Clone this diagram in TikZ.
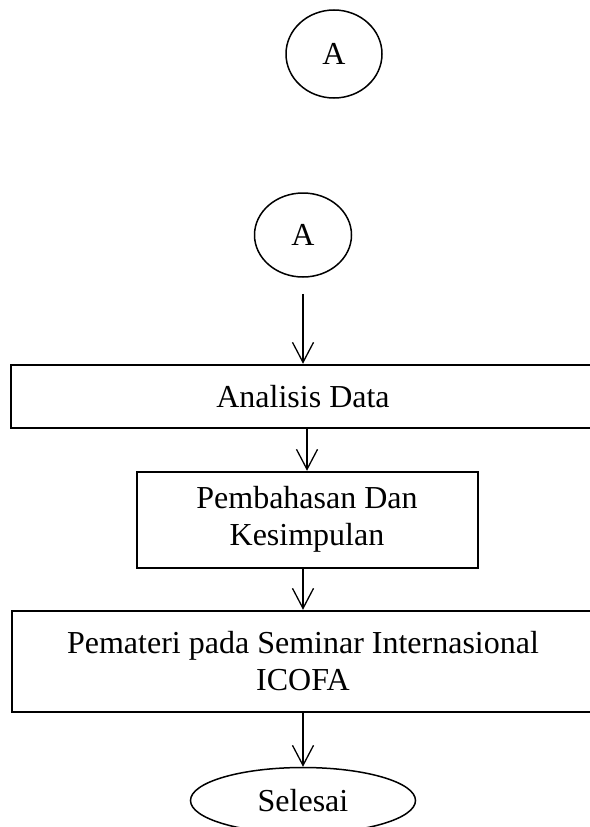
\documentclass[tikz,border=0pt]{standalone}
\usepackage{fontspec}
\setmainfont{Liberation Serif}
\usepackage{tikz}
\usetikzlibrary{positioning,shapes.geometric,arrows.meta}

\begin{document}
\begin{tikzpicture}[
			x=1pt, y=1pt,
			node distance=42pt,
			font=\fontsize{32}{37}\selectfont,
			connector/.style={draw, ellipse, line width=1.5pt, inner sep=0pt},
			process/.style={draw, rectangle, line width=2pt, align=center, inner sep=0pt},
			arrow/.style={-{Straight Barb[length=20pt,width=21pt]}, line width=1.3pt}
			]
	
	%% Batas halaman
	\useasboundingbox (0,0) rectangle (589,-827);
	
	%% Konektor halaman
	\node[connector, minimum width=96pt, minimum height=88pt] (konektorAtas) at (334,-54) {A};
	\node[connector, minimum width=97pt, minimum height=84pt] (konektorA) at (303,-235) {A};
	\coordinate[below=16pt of konektorA] (awalA);
	
	%% Tahapan proses
	\node[process, minimum width=584pt, minimum height=63pt, below=86pt of konektorA] (analisis) {Analisis Data};
	\node[process, minimum width=341pt, minimum height=96pt, below=of analisis, xshift=4pt] (pembahasan) {Pembahasan Dan \\ Kesimpulan};
	\node[process, minimum width=582pt, minimum height=101pt, below=41pt of pembahasan, xshift=-4pt] (pemateri) {Pemateri pada Seminar Internasional \\ ICOFA};
	\node[connector, minimum width=225pt, minimum height=66pt, below=54pt of pemateri] (selesai) {Selesai};
	
	%% Panah antar tahapan
	\draw[arrow] (awalA) -- (analisis.north);
	\draw[arrow] (pembahasan.north |- analisis.south) -- (pembahasan.north);
	\draw[arrow] (pemateri.north |- pembahasan.south) -- (pemateri.north);
	\draw[arrow] (pemateri.south) -- (selesai.north);
	
\end{tikzpicture}
\end{document}
